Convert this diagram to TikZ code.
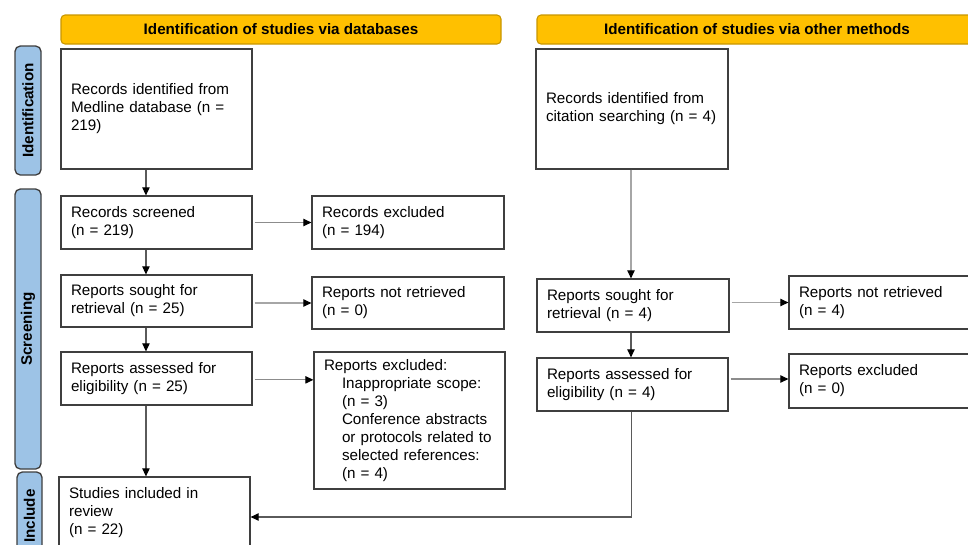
\documentclass[tikz,border=0pt]{standalone}
\usepackage{fontspec}
\setmainfont{Liberation Sans}
\usetikzlibrary{arrows.meta,calc}
\definecolor{hdrfill}{HTML}{FFC000}
\definecolor{hdrdraw}{HTML}{C89600}
\definecolor{sidefill}{HTML}{9DC3E6}
\definecolor{boxdraw}{HTML}{3F3F3F}
\definecolor{linedark}{HTML}{5A5A5A}
\definecolor{linemid}{HTML}{8C8C8C}
\definecolor{linelight}{HTML}{A6A6A6}
\newcommand\flowbox[6]{%
  \pgfmathsetmacro\bw{(#4-#2)*0.75}%
  \pgfmathsetmacro\bh{(#5-#3)*0.75}%
  \pgfmathsetmacro\tw{(#4-#2-20)*0.75}%
  \node[fbox, minimum width=\bw pt, minimum height=\bh pt, text width=\tw pt] (#1) at ({(#2+#4)/2},{(#3+#5)/2}) {#6};%
}
\newcommand\hdrbox[6]{%
  \pgfmathsetmacro\bw{(#4-#2)*0.75}%
  \pgfmathsetmacro\bh{(#5-#3)*0.75}%
  \node[hdr, minimum width=\bw pt, minimum height=\bh pt] (#1) at ({(#2+#4)/2},{(#3+#5)/2}) {#6};%
}
\newcommand\sidebox[6]{%
  \pgfmathsetmacro\bw{(#4-#2)*0.75}%
  \pgfmathsetmacro\bh{(#5-#3)*0.75}%
  \node[side, minimum width=\bh pt, minimum height=\bw pt] (#1) at ({(#2+#4)/2},{(#3+#5)/2}) {#6};%
}
\tikzset{
  fbox/.style={draw=boxdraw, line width=0.9pt, fill=white, inner xsep=7.5pt, inner ysep=2pt, align=left,
    font=\fontsize{11.4}{13.5}\selectfont},
  hdr/.style={draw=hdrdraw, line width=0.8pt, fill=hdrfill, rounded corners=3pt, inner sep=0pt,
    font=\bfseries\fontsize{11.4}{13.5}\selectfont},
  side/.style={draw=boxdraw, line width=1pt, fill=sidefill, rounded corners=4pt, inner sep=0pt, rotate=90,
    font=\bfseries\fontsize{11.4}{13.5}\selectfont},
  arr/.style={line width=0.8pt, -{Triangle[length=6pt,width=5.5pt,color=black]}},
}
\begin{document}
\begin{tikzpicture}[x=0.75pt,y=-0.75pt]
\useasboundingbox (0,0) rectangle (968,544);
% headers
\hdrbox{h1}{61}{15}{501}{44}{Identification of studies via databases}
\hdrbox{h2}{537}{15}{977}{44}{Identification of studies via other methods}
% side labels
\sidebox{s1}{15}{46}{41}{175}{Identification}
\sidebox{s2}{15}{189}{41}{469}{Screening}
\sidebox{s3}{17}{472}{42}{560}{Include}
% left column
\flowbox{A}{61}{49}{252}{169}{Records identified from\\Medline database (n =\\219)}
\flowbox{B}{61}{196}{252}{249}{Records screened\\(n = 219)}
\flowbox{C}{312}{196}{504}{249}{Records excluded\\(n = 194)}
\flowbox{D}{61}{275}{252}{327}{Reports sought for\\retrieval (n = 25)}
\flowbox{E}{312}{277}{504}{329}{Reports not retrieved\\(n = 0)}
\flowbox{F}{61}{352}{252}{405}{Reports assessed for\\eligibility (n = 25)}
\flowbox{G}{314}{352}{505}{489}{Reports excluded:\\\hspace*{13.5pt}Inappropriate scope:\\\hspace*{13.5pt}(n = 3)\\\hspace*{13.5pt}Conference abstracts\\\hspace*{13.5pt}or protocols related to\\\hspace*{13.5pt}selected references:\\\hspace*{13.5pt}(n = 4)}
\flowbox{H}{59}{477}{250}{549}{Studies included in\\review\\(n = 22)}
% right column
\flowbox{I}{536}{49}{728}{169}{Records identified from\\citation searching (n = 4)}
\flowbox{J}{537}{279}{729}{332}{Reports sought for\\retrieval (n = 4)}
\flowbox{K}{789}{276}{981}{329}{Reports not retrieved\\(n = 4)}
\flowbox{L}{537}{358}{728}{411}{Reports assessed for\\eligibility (n = 4)}
\flowbox{M}{789}{354}{981}{408}{Reports excluded\\(n = 0)}
% connectors left
\draw[arr, draw=linedark] ([xshift=-7.9pt]A.south) -- ([xshift=-7.9pt]A.south |- B.north);
\draw[arr, draw=linedark] ([xshift=-7.9pt]B.south) -- ([xshift=-7.9pt]B.south |- D.north);
\draw[arr, draw=linedark] ([xshift=-7.9pt]D.south) -- ([xshift=-7.9pt]D.south |- F.north);
\draw[arr, draw=linedark] ([xshift=-7.9pt]F.south) -- ([xshift=-7.9pt]F.south |- H.north);
\draw[arr, draw=linemid] ([xshift=1.5pt]B.east) -- (B.east -| C.west);
\draw[arr, draw=linelight] ([xshift=1.5pt]D.east |- E.west) -- (E.west);
\draw[arr, draw=linemid] ([xshift=1.5pt,yshift=-1pt]F.east) coordinate (fg) -- (fg -| G.west);
% connectors right
\draw[arr, draw=linelight] ([xshift=-0.75pt]I.south) -- ([xshift=-0.75pt]I.south |- J.north);
\draw[arr, draw=linedark] ([xshift=-1.5pt]J.south) -- ([xshift=-1.5pt]J.south |- L.north);
\draw[arr, draw=linelight] ([xshift=1.5pt]J.east |- K.west) -- (K.west);
\draw[arr, draw=linemid] ([xshift=1.5pt,yshift=1.5pt]L.east |- M.west) coordinate (lm) -- (lm -| M.west);
\draw[arr, draw=linedark] ([xshift=-1pt]L.south) |- ([yshift=-3pt]H.east);
\end{tikzpicture}
\end{document}
